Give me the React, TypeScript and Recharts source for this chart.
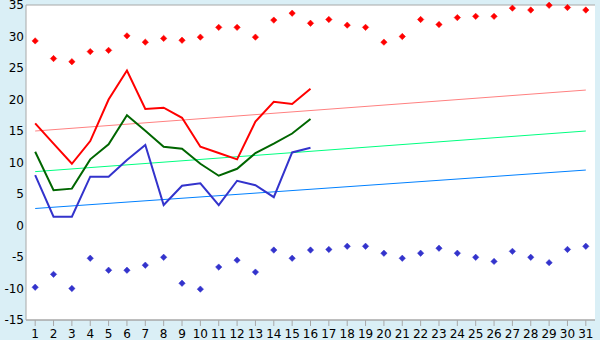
import React from "react";
import { ComposedChart, Line, XAxis, YAxis, CartesianGrid } from "recharts";

const days = [1, 2, 3, 4, 5, 6, 7, 8, 9, 10, 11, 12, 13, 14, 15, 16, 17, 18, 19, 20, 21, 22, 23, 24, 25, 26, 27, 28, 29, 30, 31];

const recordMax = [29.3, 26.5, 26.0, 27.6, 27.8, 30.1, 29.1, 29.7, 29.4, 29.9, 31.45, 31.45, 29.9, 32.6, 33.7, 32.1, 32.7, 31.8, 31.45, 29.1, 30.0, 32.7, 31.9, 33.0, 33.2, 33.2, 34.5, 34.2, 34.95, 34.6, 34.2];
const recordMin = [-9.8, -7.75, -10.0, -5.2, -7.1, -7.1, -6.3, -5.05, -9.17, -10.1, -6.6, -5.5, -7.4, -3.9, -5.2, -3.9, -3.8, -3.3, -3.3, -4.4, -5.2, -4.4, -3.6, -4.4, -5.05, -5.7, -4.1, -5.05, -5.9, -3.8, -3.3];

const tMax = [16.2, 13.0, 9.8, 13.4, 20.0, 24.6, 18.5, 18.7, 17.1, 12.5, 11.5, 10.5, 16.5, 19.65, 19.3, 21.7];
const tMean = [11.7, 5.6, 5.85, 10.5, 12.9, 17.5, 15.05, 12.5, 12.2, 9.8, 7.9, 9.0, 11.5, 13.0, 14.6, 16.9];
const tMin = [8.0, 1.4, 1.4, 7.75, 7.75, 10.4, 12.8, 3.25, 6.3, 6.7, 3.25, 7.1, 6.4, 4.5, 11.6, 12.35];

// trend line endpoints (day 1, day 31)
const trendMax = [15.0, 21.5];
const trendMean = [8.55, 15.0];
const trendMin = [2.7, 8.8];

const yTicks = [-15, -10, -5, 0, 5, 10, 15, 20, 25, 30, 35];

const data = days.map((d, i) => ({
  day: d,
  rmax: recordMax[i],
  rmin: recordMin[i],
  tmax: i < tMax.length ? tMax[i] : null,
  tmean: i < tMean.length ? tMean[i] : null,
  tmin: i < tMin.length ? tMin[i] : null,
  trMax: i === 0 ? trendMax[0] : i === days.length - 1 ? trendMax[1] : null,
  trMean: i === 0 ? trendMean[0] : i === days.length - 1 ? trendMean[1] : null,
  trMin: i === 0 ? trendMin[0] : i === days.length - 1 ? trendMin[1] : null,
}));

const diamond = (color: string) => (props: any) => {
  const { cx, cy, index, value } = props;
  if (cx == null || cy == null || value == null) return <g key={index} />;
  const r = 3.2;
  return (
    <path
      key={index}
      d={`M${cx},${cy - r}L${cx + r},${cy}L${cx},${cy + r}L${cx - r},${cy}Z`}
      fill={color}
      stroke={color}
      strokeWidth={0.5}
    />
  );
};

const font = { fontFamily: "DejaVu Sans", fontSize: 12, fill: "#000" };

export default function App() {
  return (
    <div style={{ position: "absolute", left: 0, top: 0, width: 600, height: 340, background: "#DAEFF6" }}>
      <ComposedChart width={600} height={340} data={data} margin={{ top: 5, right: 5, bottom: 0, left: 0 }}>
        <CartesianGrid vertical={false} stroke="#A8A8A8" fill="#FFFFFF" fillOpacity={1} />
        <XAxis
          dataKey="day"
          scale="band"
          height={20}
          tick={font}
          tickSize={6}
          tickMargin={3}
          interval={0}
          stroke="#A8A8A8"
          axisLine={{ stroke: "#A8A8A8" }}
          tickLine={{ stroke: "#A8A8A8" }}
        />
        <YAxis
          yAxisId="l"
          domain={[-15, 35]}
          ticks={yTicks}
          width={26}
          tick={font}
          tickLine={false}
          tickSize={0}
          tickMargin={2}
          interval={0}
          axisLine={{ stroke: "#A8A8A8" }}
        />
        <YAxis yAxisId="r" orientation="right" width={0} tick={false} tickLine={false} axisLine={{ stroke: "#A8A8A8" }} />
        <Line yAxisId="l" dataKey="trMax" stroke="#FF8080" strokeWidth={1} dot={false} connectNulls isAnimationActive={false} activeDot={false} />
        <Line yAxisId="l" dataKey="trMean" stroke="#00FF80" strokeWidth={1} dot={false} connectNulls isAnimationActive={false} activeDot={false} />
        <Line yAxisId="l" dataKey="trMin" stroke="#0080FF" strokeWidth={1} dot={false} connectNulls isAnimationActive={false} activeDot={false} />
        <Line yAxisId="l" dataKey="rmax" stroke="none" dot={diamond("#FF0000")} isAnimationActive={false} activeDot={false} />
        <Line yAxisId="l" dataKey="rmin" stroke="none" dot={diamond("#3333CC")} isAnimationActive={false} activeDot={false} />
        <Line yAxisId="l" dataKey="tmax" stroke="#FF0000" strokeWidth={2} dot={false} isAnimationActive={false} activeDot={false} />
        <Line yAxisId="l" dataKey="tmean" stroke="#006600" strokeWidth={2} dot={false} isAnimationActive={false} activeDot={false} />
        <Line yAxisId="l" dataKey="tmin" stroke="#3333CC" strokeWidth={2} dot={false} isAnimationActive={false} activeDot={false} />
      </ComposedChart>
    </div>
  );
}
